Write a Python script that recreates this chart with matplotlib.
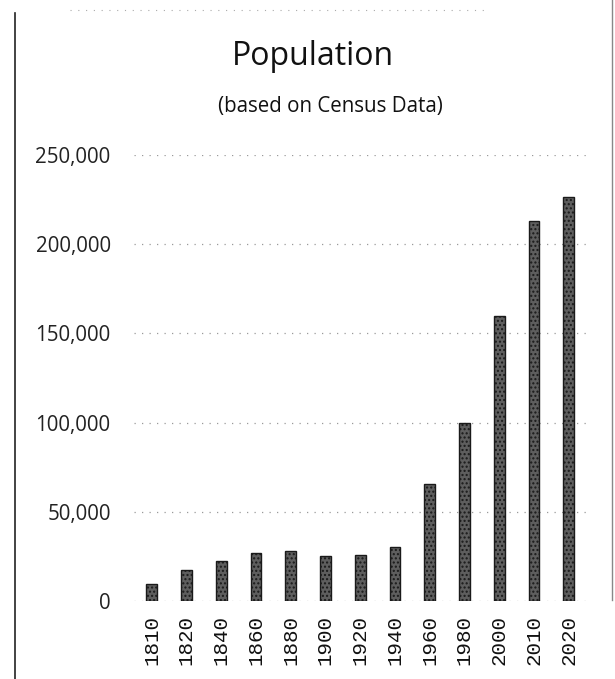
import matplotlib
matplotlib.use("Agg")
import matplotlib.pyplot as plt
from matplotlib.lines import Line2D
from matplotlib.ticker import FuncFormatter

years = ["1810", "1820", "1840", "1860", "1880", "1900", "1920", "1940",
         "1960", "1980", "2000", "2010", "2020"]
population = [9300, 17300, 22400, 26700, 28100, 25200, 25700, 30000,
              65800, 99700, 159500, 213000, 226500]
y_ticks = [0, 50000, 100000, 150000, 200000, 250000]
title = "Population"
subtitle = "(based on Census Data)"

W, H = 615, 679
fig = plt.figure(figsize=(W / 100, H / 100), dpi=100)
fig.patch.set_facecolor("white")

ax = fig.add_axes([134.3 / W, 78 / H, (586.1 - 134.3) / W, (601 - 155) / H])
x = list(range(len(years)))
ax.bar(x, population, width=0.31, color="#5e5e5e", edgecolor="#1a1a1a",
       linewidth=1.0, hatch="....", zorder=3)
ax.set_xlim(-0.5, len(years) - 0.5)
ax.set_ylim(0, 250000)
ax.set_yticks(y_ticks)
ax.yaxis.set_major_formatter(FuncFormatter(lambda v, p: f"{int(v):,}"))
ax.set_xticks(x)
ax.set_xticklabels(years, rotation=90, fontfamily="Liberation Mono",
                   fontsize=15, color="#111111")
for lab in ax.get_yticklabels():
    lab.set_fontfamily("Open Sans")
    lab.set_fontsize(14.8)
    lab.set_color("#222222")
ax.tick_params(axis="y", length=0, pad=17)
ax.tick_params(axis="x", length=0, pad=10)
for s in ax.spines.values():
    s.set_visible(False)
ax.grid(axis="y", color="#9a9a9a", linestyle=(0, (1, 5)), linewidth=0.9,
        zorder=0)
ax.set_axisbelow(True)

fig.text(313 / W, 1 - 65 / H, title, ha="center", va="baseline",
         fontfamily="Open Sans", fontsize=23, color="#111111")
fig.text(330 / W, 1 - 112 / H, subtitle, ha="center", va="baseline",
         fontfamily="Open Sans", fontsize=14.8, color="#111111")

# scanned page frame
fig.add_artist(Line2D([15 / W, 15 / W], [0, 1 - 13 / H], color="#222222",
                      linewidth=1.2))
fig.add_artist(Line2D([612 / W, 612 / W], [1 - 600 / H, 1], color="#888888",
                      linewidth=1.0))
fig.add_artist(Line2D([70 / W, 490 / W], [1 - 10 / H, 1 - 10 / H],
                      color="#aaaaaa", linewidth=0.8, linestyle=(0, (1, 6))))

fig.savefig("out.png", dpi=100, facecolor="white")
